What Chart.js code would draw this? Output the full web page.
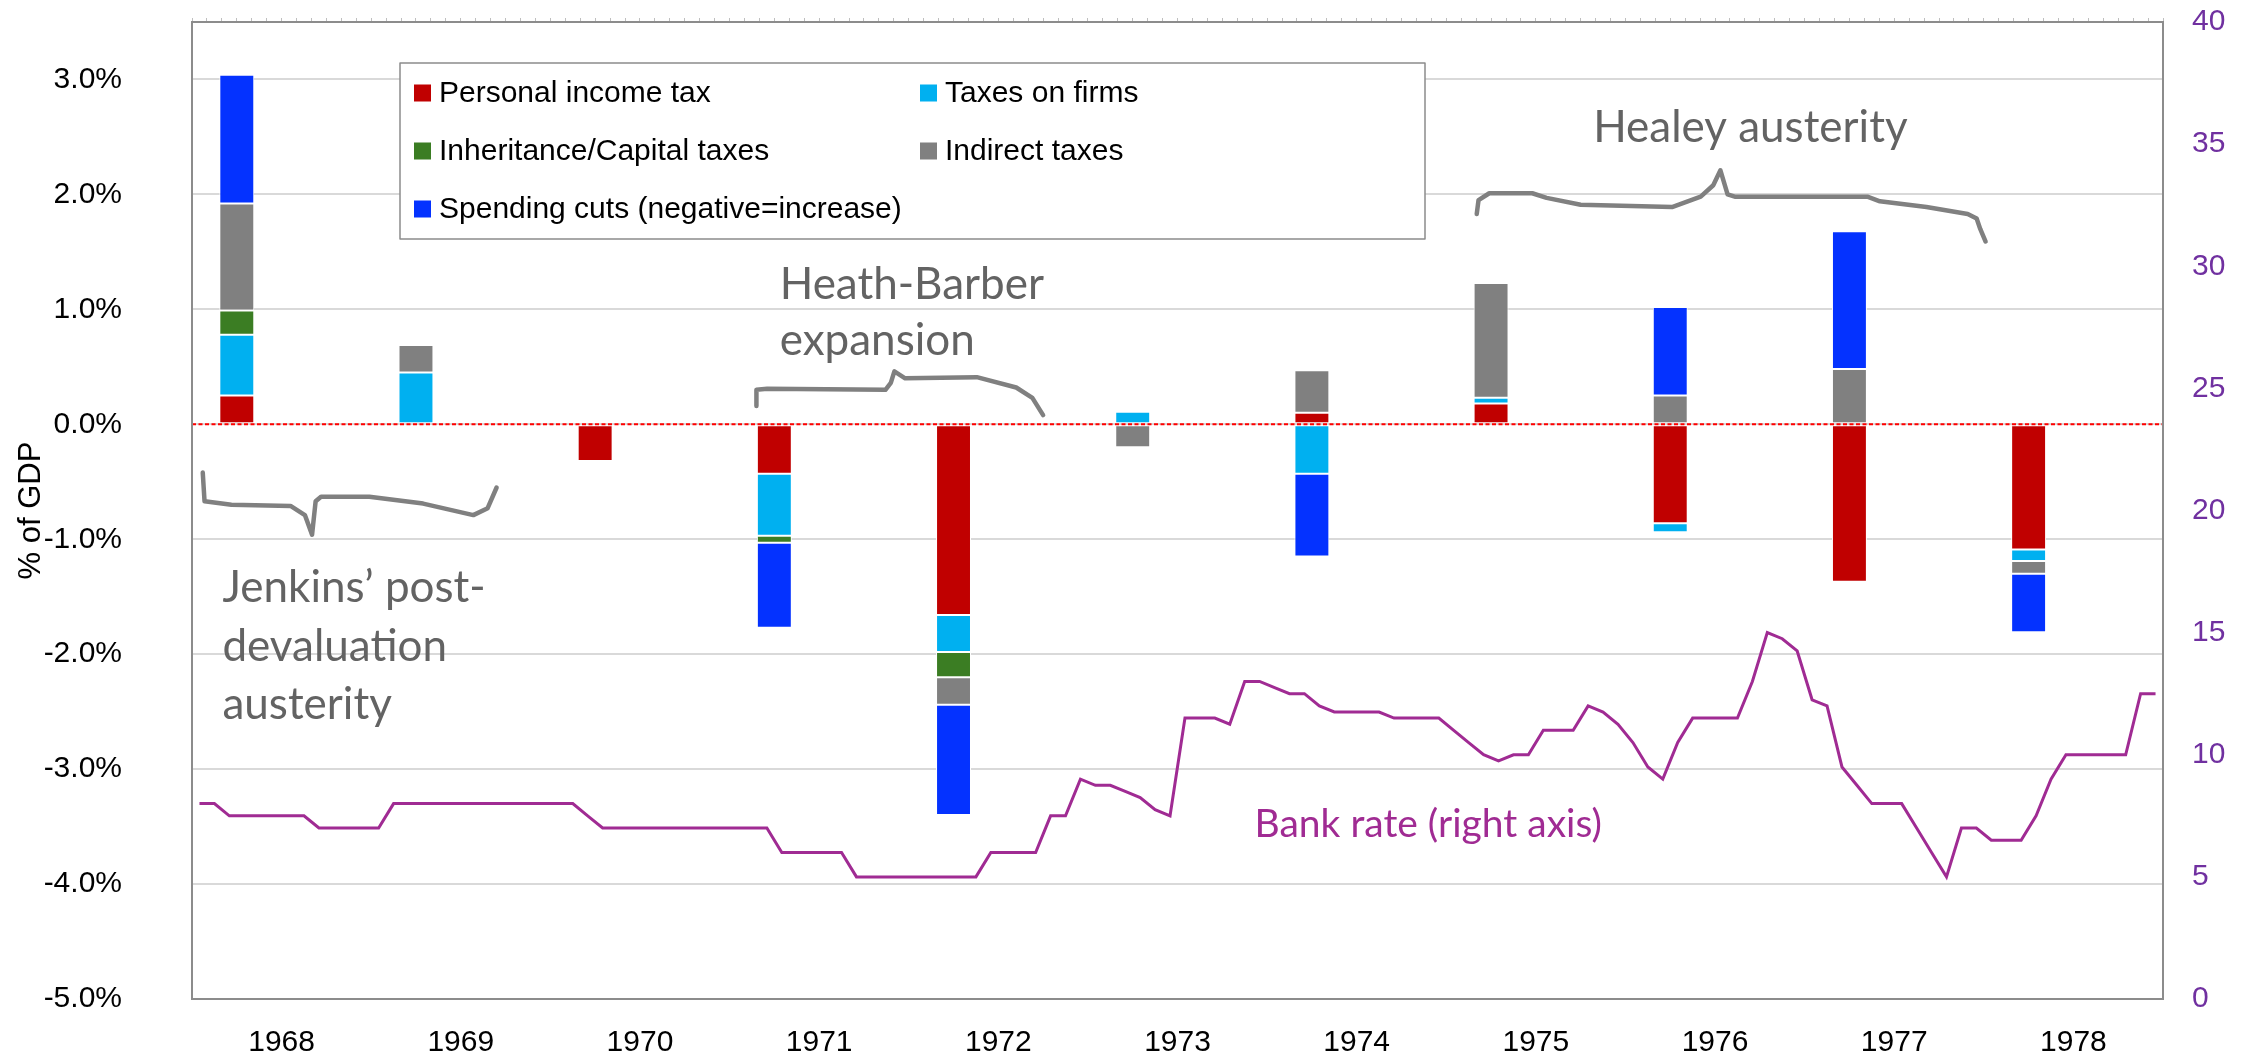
<!DOCTYPE html>
<html>
<head>
<meta charset="utf-8">
<script src="https://cdn.jsdelivr.net/npm/chart.js@4.4.1/dist/chart.umd.min.js"></script>
<style>
  html, body { margin: 0; padding: 0; background: #fff; }
  canvas { display: block; }
</style>
</head>
<body>
<canvas id="budgetChart" width="2250" height="1064"></canvas>
<script>
// Budget measures, % of GDP (positive = tightening)
const years = ['1968', '1969', '1970', '1971', '1972', '1973', '1974', '1975', '1976', '1977', '1978'];
const personalIncomeTax = [0.25, 0, -0.32, -0.43, -1.66, 0, 0.10, 0.18, -0.86, -1.37, -1.09];
const taxesOnFirms      = [0.53, 0.45, 0, -0.54, -0.32, 0.11, -0.43, 0.05, -0.08, 0, -0.10];
const inheritanceTaxes  = [0.21, 0, -0.01, -0.06, -0.22, 0, 0, 0, 0, 0, 0];
const indirectTaxes     = [0.93, 0.24, 0, 0, -0.24, -0.20, 0.37, 1.00, 0.25, 0.48, -0.11];
const spendingCuts      = [1.12, 0, 0, -0.74, -0.96, 0, -0.72, 0, 0.77, 1.20, -0.51];

// Bank rate / MLR, monthly Jan 1968 - Dec 1978 (%)
const bankRate = [
  8, 8, 7.5, 7.5, 7.5, 7.5, 7.5, 7.5, 7, 7, 7, 7,                 // 1968
  7, 8, 8, 8, 8, 8, 8, 8, 8, 8, 8, 8,                             // 1969
  8, 8, 7.5, 7, 7, 7, 7, 7, 7, 7, 7, 7,                           // 1970
  7, 7, 7, 6, 6, 6, 6, 6, 5, 5, 5, 5,                             // 1971
  5, 5, 5, 5, 5, 6, 6, 6, 6, 7.5, 7.5, 9,                         // 1972
  8.75, 8.75, 8.5, 8.25, 7.75, 7.5, 11.5, 11.5, 11.5, 11.25, 13, 13, // 1973
  12.75, 12.5, 12.5, 12, 11.75, 11.75, 11.75, 11.75, 11.5, 11.5, 11.5, 11.5, // 1974
  11, 10.5, 10, 9.75, 10, 10, 11, 11, 11, 12, 11.75, 11.25,       // 1975
  10.5, 9.5, 9, 10.5, 11.5, 11.5, 11.5, 11.5, 13, 15, 14.75, 14.25, // 1976
  12.25, 12, 9.5, 8.75, 8, 8, 8, 7, 6, 5, 7, 7,                   // 1977
  6.5, 6.5, 6.5, 7.5, 9, 10, 10, 10, 10, 10, 12.5, 12.5           // 1978
];

const gdpTicks = [-5, -4, -3, -2, -1, 0, 1, 2, 3];
const rateTicks = [0, 5, 10, 15, 20, 25, 30, 35, 40];

const monthNames = ['Jan', 'Feb', 'Mar', 'Apr', 'May', 'Jun', 'Jul', 'Aug', 'Sep', 'Oct', 'Nov', 'Dec'];
const months = years.flatMap(y => monthNames.map(m => m + ' ' + y));

// annotation braces, in (category index, % of GDP) space
const braceJenkins = [[-0.44,-0.42],[-0.43,-0.67],[-0.28,-0.70],[0.05,-0.71],[0.13,-0.79],[0.17,-0.96],[0.19,-0.67],[0.22,-0.63],[0.49,-0.63],[0.79,-0.69],[1.07,-0.79],[1.15,-0.73],[1.20,-0.55]];
const braceHeath = [[2.65,0.16],[2.65,0.30],[2.71,0.31],[3.37,0.30],[3.40,0.36],[3.42,0.46],[3.48,0.40],[3.88,0.41],[4.10,0.32],[4.19,0.23],[4.25,0.08]];
const braceHealey = [[6.67,1.83],[6.68,1.95],[6.74,2.01],[6.98,2.01],[7.06,1.97],[7.25,1.91],[7.76,1.89],[7.92,1.98],[7.99,2.08],[8.03,2.21],[8.07,2.00],[8.11,1.98],[8.85,1.98],[8.92,1.94],[9.18,1.89],[9.41,1.83],[9.46,1.79],[9.48,1.70],[9.51,1.59]];

const notes = [
  { text: 'Healey austerity', at: [7.32, 2.46] },
  { text: 'Heath-Barber', at: [2.78, 1.09] },
  { text: 'expansion', at: [2.78, 0.60] },
  { text: 'Jenkins\u2019 post-', at: [-0.33, -1.55] },
  { text: 'devaluation', at: [-0.33, -2.06] },
  { text: 'austerity', at: [-0.33, -2.56] }
];

Chart.defaults.font.family = '"Liberation Sans", Arial, sans-serif';

// keep the plot area fixed: no extra room for half tick labels
function noPad(s) {
  s.paddingTop = 0;
  s.paddingBottom = 0;
  s.paddingLeft = 0;
  s.paddingRight = 0;
}

const overlay = {
  id: 'overlay',
  afterDatasetsDraw(chart) {
    // dotted zero line
    const { ctx, chartArea: a } = chart;
    const y0 = chart.scales.y.getPixelForValue(0);
    ctx.save();
    ctx.strokeStyle = '#FF0000';
    ctx.lineWidth = 2;
    ctx.setLineDash([4, 2.5]);
    ctx.beginPath();
    ctx.moveTo(a.left, y0);
    ctx.lineTo(a.right, y0);
    ctx.stroke();
    ctx.restore();
  },
  afterDraw(chart) {
    const { ctx, chartArea: a } = chart;
    const xs = chart.scales.x, ys = chart.scales.y;
    const pt = p => [xs.getPixelForValue(p[0]), ys.getPixelForValue(p[1])];

    ctx.save();
    // plot border
    ctx.strokeStyle = '#8C8C8C';
    ctx.lineWidth = 2;
    ctx.strokeRect(a.left, a.top, a.right - a.left, a.bottom - a.top);

    // braces
    ctx.strokeStyle = '#808080';
    ctx.lineWidth = 4.5;
    ctx.lineJoin = 'round';
    ctx.lineCap = 'round';
    [braceJenkins, braceHeath, braceHealey].forEach(b => {
      ctx.beginPath();
      b.forEach((p, i) => {
        const [x, y] = pt(p);
        if (i === 0) ctx.moveTo(x, y); else ctx.lineTo(x, y);
      });
      ctx.stroke();
    });

    // gray notes
    ctx.fillStyle = '#636363';
    ctx.font = '44px Lato';
    ctx.textBaseline = 'alphabetic';
    ctx.textAlign = 'left';
    notes.forEach(n => {
      const [x, y] = pt(n.at);
      ctx.fillText(n.text, x, y);
    });

    // bank rate label
    ctx.fillStyle = '#A02B93';
    ctx.font = '39px Lato';
    const [bx, by] = pt([5.43, -3.59]);
    ctx.fillText('Bank rate (right axis)', bx, by);

    // legend box
    const lx = a.left + 208, ly = a.top + 41, lw = 1025, lh = 176;
    ctx.fillStyle = '#fff';
    ctx.fillRect(lx, ly, lw, lh);
    ctx.strokeStyle = '#8C8C8C';
    ctx.lineWidth = 1.5;
    ctx.strokeRect(lx, ly, lw, lh);
    ctx.font = '30px "Liberation Sans"';
    ctx.textBaseline = 'middle';
    chart.data.datasets.filter(d => d.type !== 'line').forEach((d, i) => {
      const col = i % 2, row = Math.floor(i / 2);
      const sx = lx + (col ? 520 : 14);
      const sy = ly + 30 + row * 58;
      ctx.fillStyle = d.backgroundColor;
      ctx.fillRect(sx, sy - 8.5, 17, 17);
      ctx.fillStyle = '#000';
      ctx.fillText(d.label, sx + 25, sy + 1);
    });
    ctx.restore();
  }
};

function barSet(label, data, color) {
  return {
    label, data,
    backgroundColor: color,
    borderColor: '#ffffff',
    borderWidth: 1,
    borderSkipped: false,
    xAxisID: 'x', yAxisID: 'y',
    barPercentage: 0.39,
    categoryPercentage: 1.0
  };
}

new Chart(document.getElementById('budgetChart'), {
  type: 'bar',
  data: {
    labels: years,
    datasets: [
      barSet('Personal income tax', personalIncomeTax, '#C00000'),
      barSet('Taxes on firms', taxesOnFirms, '#00B0F0'),
      barSet('Inheritance/Capital taxes', inheritanceTaxes, '#3B7D23'),
      barSet('Indirect taxes', indirectTaxes, '#808080'),
      barSet('Spending cuts (negative=increase)', spendingCuts, '#0432FF'),
      {
        type: 'line',
        label: 'Bank rate',
        data: bankRate,
        xAxisID: 'x2', yAxisID: 'y2',
        borderColor: '#A02B93',
        borderWidth: 3,
        pointRadius: 0,
        tension: 0,
        fill: false
      }
    ]
  },
  options: {
    responsive: false,
    animation: false,
    devicePixelRatio: 1,
    layout: { padding: 0, autoPadding: false },
    plugins: { legend: { display: false }, tooltip: { enabled: false } },
    scales: {
      x: {
        position: 'bottom',
        stacked: true,
        offset: true,
        grid: { display: false, drawTicks: false },
        border: { display: false },
        ticks: { color: '#000', font: { size: 30 }, padding: 26 },
        afterFit: s => { s.height = 65; noPad(s); }
      },
      x2: {
        type: 'category',
        position: 'top',
        labels: months,
        offset: true,
        grid: { offset: true, drawOnChartArea: false, tickLength: 4, color: '#BFBFBF' },
        border: { display: false },
        ticks: { display: false },
        afterFit: s => { s.height = 22; noPad(s); }
      },
      y: {
        position: 'left',
        stacked: true,
        min: -5,
        max: 3.5,
        afterBuildTicks: s => { s.ticks = gdpTicks.map(v => ({ value: v })); },
        grid: { color: '#D9D9D9', lineWidth: 2, drawTicks: false },
        border: { display: false },
        ticks: { color: '#000', font: { size: 30 }, padding: 70, callback: v => v.toFixed(1) + '%' },
        title: { display: true, text: '% of GDP', color: '#000', font: { size: 31 }, padding: { top: 13, bottom: 0 } },
        afterFit: s => { s.width = 192; noPad(s); }
      },
      y2: {
        position: 'right',
        min: 0,
        max: 40,
        afterBuildTicks: s => { s.ticks = rateTicks.map(v => ({ value: v })); },
        grid: { drawOnChartArea: false, drawTicks: false },
        border: { display: false },
        ticks: { color: '#7030A0', font: { size: 30 }, padding: 29 },
        afterFit: s => { s.width = 87; noPad(s); }
      }
    }
  },
  plugins: [overlay]
});
</script>
</body>
</html>
